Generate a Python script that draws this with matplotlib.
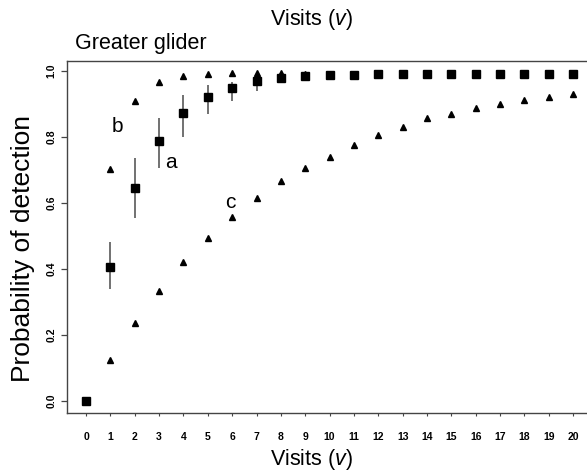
#!/usr/bin/env python3
"""
Probability of detection against number of visits (Greater glider).
"""
import matplotlib
matplotlib.use('Agg')
import matplotlib.pyplot as plt

plt.rcParams['font.family'] = ['Liberation Sans', 'DejaVu Sans']
plt.rcParams['mathtext.fontset'] = 'custom'
plt.rcParams['mathtext.rm'] = 'Liberation Sans'
plt.rcParams['mathtext.it'] = 'Liberation Sans:italic'

visits = list(range(21))
# a: estimates with interval (squares)
a_est = [0.0, 0.407, 0.646, 0.788, 0.872, 0.920, 0.949, 0.968, 0.978, 0.984, 0.987,
         0.989, 0.990, 0.991, 0.991, 0.991, 0.991, 0.991, 0.991, 0.991, 0.991]
a_bar_visits = [1, 2, 3, 4, 5, 6, 7, 8]
a_lo = [0.339, 0.554, 0.705, 0.801, 0.869, 0.910, 0.940, 0.965]
a_hi = [0.483, 0.735, 0.857, 0.927, 0.958, 0.967, 0.985, 0.990]
# b and c: triangles
b_est = [0.0, 0.702, 0.909, 0.965, 0.985, 0.991, 0.993, 0.994, 0.994, 0.990, 0.990,
         0.991, 0.991, 0.991, 0.991, 0.991, 0.991, 0.991, 0.991, 0.991, 0.991]
c_est = [0.0, 0.126, 0.237, 0.334, 0.420, 0.493, 0.559, 0.616, 0.667, 0.706, 0.739,
         0.776, 0.806, 0.830, 0.857, 0.870, 0.887, 0.900, 0.912, 0.922, 0.929]
y_ticks = [0.0, 0.2, 0.4, 0.6, 0.8, 1.0]
letters = ['b', 'a', 'c']
letter_pos = [(117, 127), (171, 163), (230, 203)]  # pixel positions

W, H = 587, 474
fig = plt.figure(figsize=(W / 100, H / 100), dpi=100)
# the scan is cropped: the right spine lies just outside the picture
ax = fig.add_axes([67 / W, 1 - 413 / H, (592.7 - 67) / W, (413 - 61) / H])

spine_col = '#444444'
ax.vlines(a_bar_visits, a_lo, a_hi, color='#666666', lw=1.3, zorder=2)
ax.plot(visits, c_est, ls='none', marker='^', ms=4.8, color='black', zorder=3)
ax.plot(visits, b_est, ls='none', marker='^', ms=4.8, color='black', zorder=3)
ax.plot(visits, a_est, ls='none', marker='s', ms=5.3, color='black', zorder=4)

ax.set_xlim(-0.78, 20.8)
ax.set_ylim(-0.036, 1.03)
ax.set_xticks(visits)
ax.set_xticklabels([str(v) for v in visits], fontsize=7.5, fontweight='bold')
ax.set_yticks(y_ticks)
ax.set_yticklabels(['%.1f' % t for t in y_ticks], fontsize=7.5, fontweight='bold',
                   rotation=90, va='center')
ax.tick_params(axis='y', direction='out', length=4.5, width=0.9, color=spine_col, pad=3)
ax.tick_params(axis='x', direction='out', length=2, width=0.8, color=spine_col, pad=12)
for s in ax.spines.values():
    s.set_color(spine_col)
    s.set_linewidth(1.0)

# axis titles placed where the scan has them (plot is cropped on the right)
fig.text(23 / W, 1 - 248 / H, 'Probability of detection', fontsize=19,
         rotation=90, ha='center', va='center')
fig.text(311 / W, 1 - 459 / H, 'Visits ($v$)', fontsize=15.5, ha='center', va='center')

for lab, (px, py) in zip(letters, letter_pos):
    fig.text(px / W, 1 - py / H, lab, fontsize=15, ha='center', va='center')

fig.text(75 / W, 1 - 43 / H, 'Greater glider', fontsize=15.5, ha='left', va='center')
fig.text(311 / W, 1 - 20 / H, 'Visits ($v$)', fontsize=15.5, ha='center', va='center')

fig.savefig('out.png', dpi=100)
